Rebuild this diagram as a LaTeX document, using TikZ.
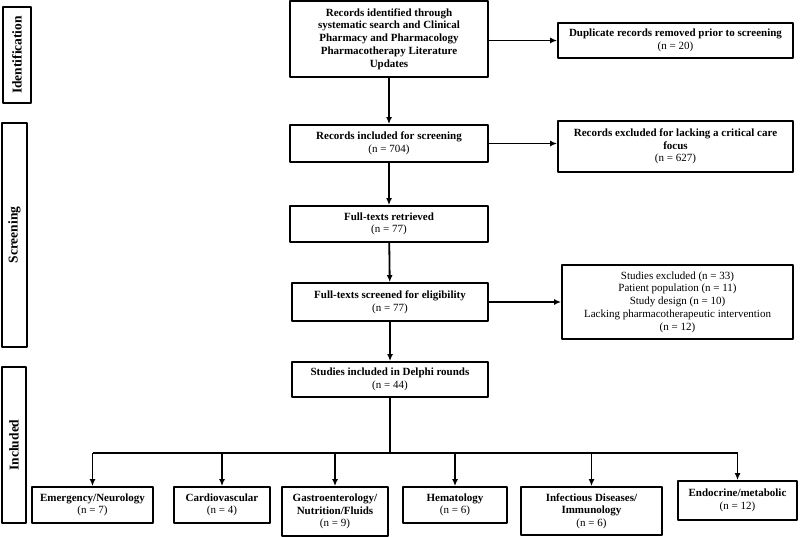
\documentclass[tikz,border=0pt]{standalone}
\usepackage{fontspec}
\setmainfont{Liberation Serif}
\usetikzlibrary{arrows.meta}
\begin{document}
\begin{tikzpicture}[x=1pt,y=-1pt,>={Latex[length=7pt,width=6pt]},line join=round,
	font=\fontsize{11}{12.7}\selectfont,
	box/.style={draw,line width=1.8pt,align=center,inner sep=1pt},
	stage/.style={draw,line width=1.8pt,rotate=90,inner sep=0pt,font=\fontsize{13.5}{15}\selectfont\bfseries},
	link/.style={->,line width=1.8pt}]
	\useasboundingbox (0,0) rectangle (800,537);
	% stages
	\node[stage,minimum width=96pt,minimum height=28pt] (idf) at (17,55) {Identification};
	\node[stage,minimum width=224pt,minimum height=25pt] (scr) at (14.5,235) {Screening};
	\node[stage,minimum width=156pt,minimum height=24pt] (inc) at (14,445) {Included};
	% main column
	\node[box,minimum width=198pt,minimum height=76pt] (ident) at (389,39) {\bfseries Records identified through\\\bfseries systematic search and Clinical\\\bfseries Pharmacy and Pharmacology\\\bfseries Pharmacotherapy Literature\\\bfseries Updates};
	\node[box,minimum width=198pt,minimum height=37pt] (screen) at (389,143.5) {\bfseries Records included for screening\\(n = 704)};
	\node[box,minimum width=198pt,minimum height=36pt] (retr) at (389,224) {\bfseries Full-texts retrieved\\(n = 77)};
	\node[box,minimum width=196pt,minimum height=38pt] (elig) at (390,302) {\bfseries Full-texts screened for eligibility\\(n = 77)};
	\node[box,minimum width=196pt,minimum height=35pt] (delphi) at (390,379.5) {\bfseries Studies included in Delphi rounds\\(n = 44)};
	% exclusions
	\node[box,minimum width=235pt,minimum height=35pt] (dup) at (675.5,40.5) {\bfseries Duplicate records removed prior to screening\\(n = 20)};
	\node[box,minimum width=235pt,minimum height=51pt] (excl) at (675.5,146.5) {\bfseries Records excluded for lacking a critical care\\\bfseries focus\\(n = 627)};
	\node[box,minimum width=231pt,minimum height=74pt] (studx) at (677.5,302) {Studies excluded (n = 33)\\Patient population (n = 11)\\Study design (n = 10)\\Lacking pharmacotherapeutic intervention\\(n = 12)};
	% categories
	\node[box,minimum width=121pt,minimum height=36pt] (emerg) at (92.5,505) {\bfseries Emergency/Neurology\\(n = 7)};
	\node[box,minimum width=96pt,minimum height=36pt] (cardio) at (222,505) {\bfseries Cardiovascular\\(n = 4)};
	\node[box,minimum width=106pt,minimum height=49pt] (gastro) at (335,511.5) {\bfseries Gastroenterology/\\\bfseries Nutrition/Fluids\\(n = 9)};
	\node[box,minimum width=104pt,minimum height=36pt] (hema) at (455,505) {\bfseries Hematology\\(n = 6)};
	\node[box,minimum width=141pt,minimum height=48pt] (infect) at (591.5,511) {\bfseries Infectious Diseases/\\\bfseries Immunology\\(n = 6)};
	\node[box,minimum width=119pt,minimum height=39pt] (endo) at (737.5,500.5) {\bfseries Endocrine/metabolic\\(n = 12)};
	% connectors
	\draw[link] (ident) -- (screen);
	\draw[link] (screen) -- (retr);
	\draw[link] (retr) -- (elig);
	\draw[link] (elig) -- (delphi);
	\draw[link] (ident.east |- dup.west) -- (dup.west);
	\draw[link] (screen.east) -- (screen.east -| excl.west);
	\draw[link] (elig.east) -- (studx.west);
	\coordinate (bus) at (390,453);
	\draw[line width=1.8pt] (delphi.south) -- (bus) (emerg.north |- bus) -- (endo.north |- bus);
	\foreach \c in {emerg,cardio,gastro,hema,infect,endo}
		\draw[link] (\c.north |- bus) -- (\c.north);
\end{tikzpicture}
\end{document}
